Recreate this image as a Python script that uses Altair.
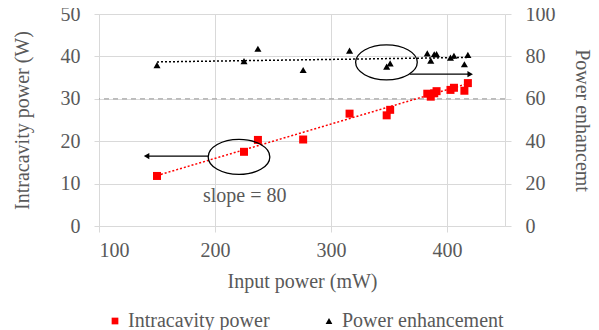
import altair as alt
import pandas as pd

# ---- data ----
input_mw = [150, 225, 237, 276, 316, 348, 351, 383, 386, 389, 391, 403, 406, 415, 418]
intracavity_w = [11.8, 17.5, 20.3, 20.4, 26.5, 26.1, 27.4, 31.2, 30.5, 31.3, 31.8, 32.1, 32.6, 31.9, 33.7]
enhancement = [75.9, 77.8, 83.6, 73.6, 82.7, 75.2, 76.7, 81.4, 78.0, 81.0, 81.1, 79.4, 80.3, 76.3, 80.7]

series_names = ["Intracavity power", "Power enhancement"]

# trend lines (endpoints)
trend_x = [150, 418]
trend_intracavity = [11.9, 33.6]
trend_enhancement = [77.4, 79.5]

# annotations (data units)
threshold_w = [30]
ellipse_x = [220.7, 347.8]
ellipse_y = [16.3, 38.6]
arrow_x = [194, 367.8]
arrow_x2 = [141, 420]
arrow_y = [16.5, 35.8]
arrow_head = ["triangle-left", "triangle-right"]
slope_text = ["slope = 80"]
slope_x = [225.6]
slope_y = [7.1]

FONT = "Liberation Serif"
GRAY = "#595959"
GRID = "#d9d9d9"
FS = 20

pts_red = pd.DataFrame({"x": input_mw, "y": intracavity_w, "series": series_names[0]})
pts_blk = pd.DataFrame({"x": input_mw, "y": enhancement, "series": series_names[1]})
tr_red = pd.DataFrame({"x": trend_x, "y": trend_intracavity})
tr_blk = pd.DataFrame({"x": trend_x, "y": trend_enhancement})
thr = pd.DataFrame({"y": threshold_w})
ell = pd.DataFrame({"x": ellipse_x, "y": ellipse_y})
arr = pd.DataFrame({"x": arrow_x, "x2": arrow_x2, "y": arrow_y, "head": arrow_head})
txt = pd.DataFrame({"x": slope_x, "y": slope_y, "t": slope_text})

xs = alt.Scale(domain=[100, 450], nice=False, zero=False)
x_axis = alt.Axis(
    values=[100, 200, 300, 400], title="Input power (mW)", grid=True, gridColor=GRID,
    domainColor=GRID, tickColor=GRID, tickSize=6, labelPadding=8, titlePadding=11)
x_enc = alt.X("x:Q", scale=xs, axis=x_axis)

yl_scale = alt.Scale(domain=[0, 50], nice=False)
yl_axis = alt.Axis(values=[0, 10, 20, 30, 40, 50], title="Intracavity power (W)", grid=True,
                   gridColor=GRID, domainColor=GRID, tickColor=GRID, tickSize=5,
                   labelPadding=14, titlePadding=28)
yl = alt.Y("y:Q", scale=yl_scale, axis=yl_axis)

yr_scale = alt.Scale(domain=[0, 100], nice=False)
yr = alt.Y("y:Q", scale=yr_scale, axis=alt.Axis(
    orient="right", values=[0, 20, 40, 60, 80, 100], title="Power enhancemt", grid=False,
    domainColor=GRID, tickColor=GRID, tickSize=6, labelPadding=14, titlePadding=16))

leg = alt.Legend(title=None, orient="none", legendX=6, legendY=297,
                 direction="horizontal", symbolSize=45, columnPadding=49,
                 labelOffset=3, padding=0, labelLimit=0)
color = alt.Color("series:N", scale=alt.Scale(domain=series_names, range=["#ff0000", "#000000"]),
                  legend=leg)
shape = alt.Shape("series:N", scale=alt.Scale(domain=series_names, range=["square", "triangle-up"]),
                  legend=leg)

red_pts = alt.Chart(pts_red).mark_point(filled=True, size=64, opacity=1).encode(
    x=x_enc, y=yl, color=color, shape=shape)
red_line = alt.Chart(tr_red).mark_line(color="#ff0000", strokeDash=[2, 2], strokeWidth=1.5).encode(
    x=x_enc, y=yl)
dash = alt.Chart(thr).mark_rule(color="#a6a6a6", strokeDash=[5, 4], strokeWidth=1.2).encode(y=yl)
ELLIPSE = "M -1 0 A 1 0.567 0 1 0 1 0 A 1 0.567 0 1 0 -1 0 Z"
ellipses = alt.Chart(ell).mark_point(shape=ELLIPSE, size=3800, filled=False, color="black",
                                     strokeWidth=1.3, opacity=1).encode(x=x_enc, y=yl)
arrows = alt.Chart(arr).mark_rule(color="black", strokeWidth=1.2).encode(
    x=x_enc, x2="x2:Q", y=yl)
heads = alt.Chart(arr).mark_point(filled=True, size=40, color="black", opacity=1).encode(
    x=alt.X("x2:Q", scale=xs, axis=x_axis), y=yl,
    shape=alt.Shape("head:N", scale=None, legend=None))
label = alt.Chart(txt).mark_text(font=FONT, fontSize=FS, color=GRAY).encode(
    x=x_enc, y=yl, text="t:N")

left = alt.layer(dash, red_line, red_pts, ellipses, arrows, heads, label)

blk_pts = alt.Chart(pts_blk).mark_point(filled=True, size=50, opacity=1).encode(
    x=x_enc, y=yr, color=color, shape=shape)
blk_line = alt.Chart(tr_blk).mark_line(color="black", strokeDash=[2, 2], strokeWidth=1.5).encode(
    x=x_enc, y=yr)
right = alt.layer(blk_line, blk_pts)

chart = alt.layer(left, right).resolve_scale(y="independent").properties(
    width=406, height=212,
    autosize=alt.AutoSizeParams(type="none"),
    padding={"left": 91, "top": 6, "right": 86, "bottom": 104},
).configure(background="white", font=FONT).configure_view(stroke=None).configure_axis(
    labelFont=FONT, labelFontSize=FS, labelColor=GRAY, titleFont=FONT, titleFontSize=FS,
    titleColor=GRAY, titleFontWeight="normal"
).configure_legend(labelFont=FONT, labelFontSize=FS, labelColor=GRAY)

chart.save("out.html", embed_options={"renderer": "svg", "actions": False})
